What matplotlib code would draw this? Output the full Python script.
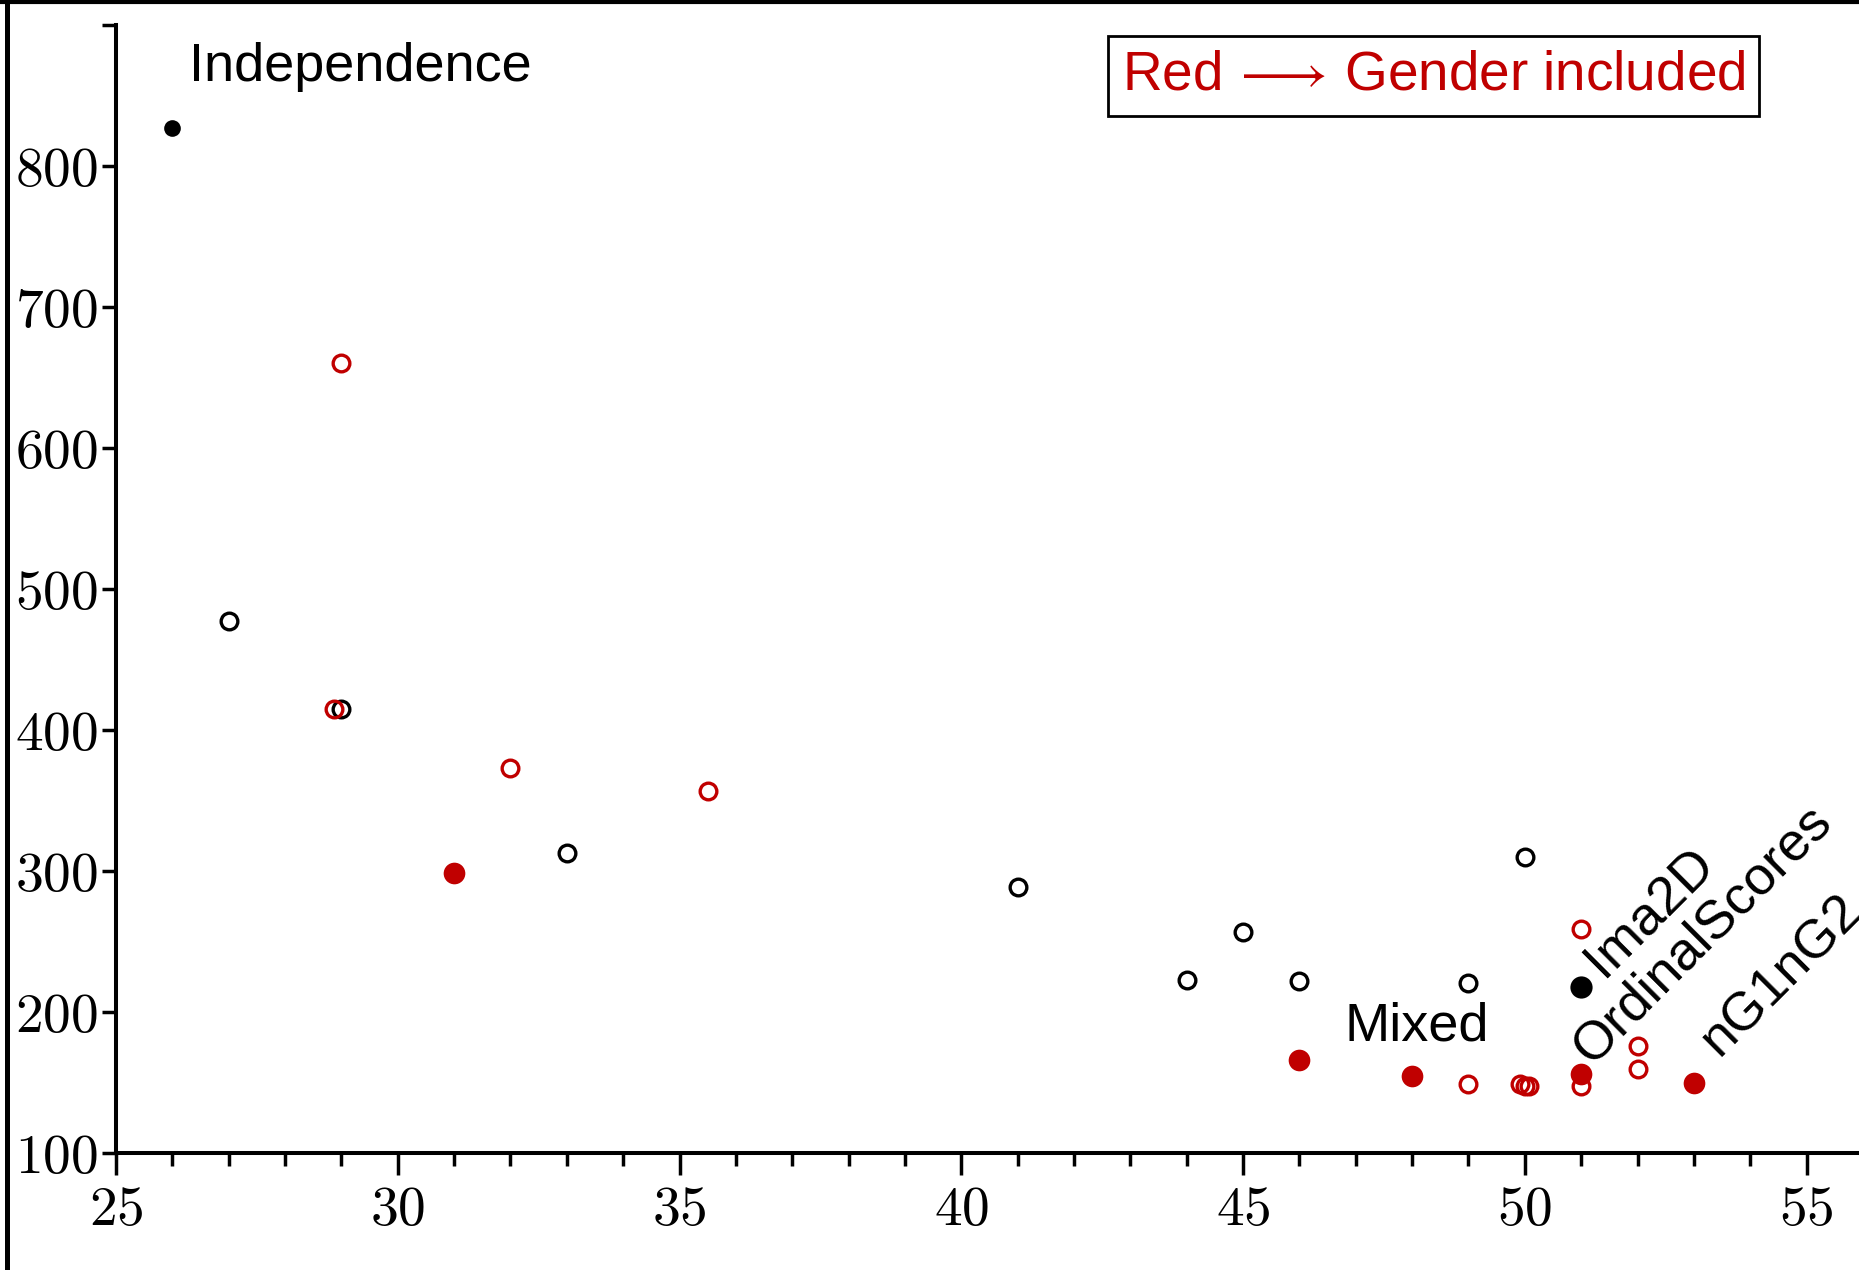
import matplotlib
matplotlib.use('Agg')
import matplotlib.pyplot as plt
from matplotlib.lines import Line2D
from matplotlib.ticker import MultipleLocator, FixedLocator, FuncFormatter

plt.rcParams['mathtext.fontset'] = 'cm'
plt.rcParams['font.family'] = ['Liberation Sans', 'DejaVu Sans']

RED = '#c00000'

# models without gender (black)
black_open_x = [27, 29, 33, 41, 44, 45, 46, 49, 50]
black_open_y = [477, 415, 313, 289, 223, 257, 222, 221, 310]
black_filled_x = [26, 51]
black_filled_y = [827, 218]
black_filled_size = [12, 16]

# models with gender (red)
red_open_x = [29, 28.87, 32, 35.5, 49, 49.92, 50, 50.08, 51, 51, 52, 52]
red_open_y = [660, 415, 373, 357, 149, 149, 148, 148, 259, 148, 176, 160]
red_filled_x = [31, 46, 48, 51, 53]
red_filled_y = [299, 166, 155, 156, 150]

# point labels
labels = ['Independence', 'Mixed', 'Ima2D', 'OrdinalScores', 'nG1nG2']
label_x = [26.3, 46.8, 51.4, 51.17, 53.45]
label_y = [860, 180, 224, 162, 168]
label_rot = [0, 0, 45, 45, 45]

x_ticks = [25, 30, 35, 40, 45, 50, 55]
y_ticks = [100, 200, 300, 400, 500, 600, 700, 800, 900]

fig = plt.figure(figsize=(18.59, 12.70), dpi=100)
ax = fig.add_axes([0.0624, 0.0919, 0.9376, 0.8888])
ax.set_xlim(25, 55.93)
ax.set_ylim(100, 900)

ax.plot(black_open_x, black_open_y, 'o', ms=12, mfc='none', mec='black', mew=2.4, ls='none')
for x, y, s in zip(black_filled_x, black_filled_y, black_filled_size):
    ax.plot([x], [y], 'o', ms=s, color='black', mew=0)
ax.plot(red_open_x, red_open_y, 'o', ms=12, mfc='none', mec=RED, mew=2.4, ls='none')
ax.plot(red_filled_x, red_filled_y, 'o', ms=15.6, color=RED, mew=0, ls='none')

for s, x, y, r in zip(labels, label_x, label_y, label_rot):
    ax.text(x, y, s, fontsize=39, rotation=r, rotation_mode='anchor',
            ha='left', va='baseline', color='black')

ax.text(0.756, 0.9544, 'Red$\\,\\longrightarrow\\,$Gender included', transform=ax.transAxes,
        fontsize=39.5, color=RED, ha='center', va='center',
        bbox=dict(boxstyle='square,pad=0.25', fc='white', ec='black', lw=2))

for side in ['top', 'right']:
    ax.spines[side].set_visible(False)
for side in ['left', 'bottom']:
    ax.spines[side].set_linewidth(2.9)

ax.xaxis.set_major_locator(FixedLocator(x_ticks))
ax.xaxis.set_minor_locator(MultipleLocator(1))
ax.yaxis.set_major_locator(FixedLocator(y_ticks))
ax.xaxis.set_major_formatter(FuncFormatter(lambda v, p: '$%d$' % v))
ax.yaxis.set_major_formatter(FuncFormatter(lambda v, p: '' if v >= 900 else '$%d$' % v))
ax.tick_params(axis='x', which='major', length=16, width=2.5, pad=7, labelsize=40)
ax.tick_params(axis='x', which='minor', length=9.5, width=2.5)
ax.tick_params(axis='y', which='major', length=10, width=2.5, pad=3, labelsize=40)

# frame lines at the left and top edge
fig.add_artist(Line2D([0.0038, 0.0038], [0, 1], transform=fig.transFigure, color='black', lw=3.6))
fig.add_artist(Line2D([0, 1], [0.9988, 0.9988], transform=fig.transFigure, color='black', lw=3))

fig.savefig('out.png', dpi=100)
